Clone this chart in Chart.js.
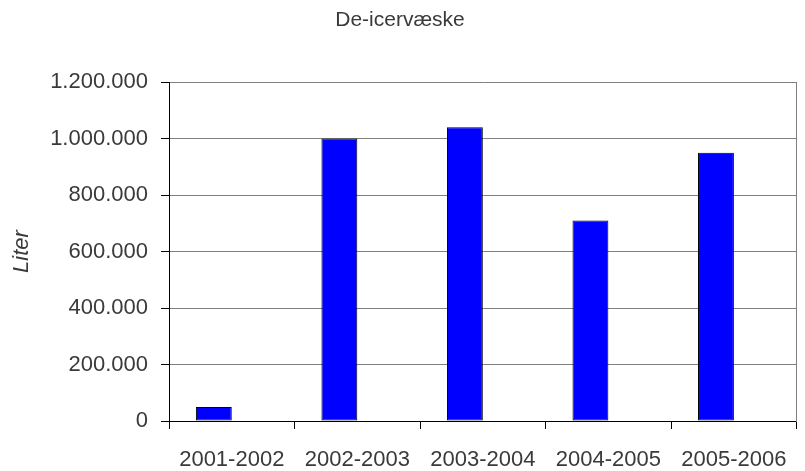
<!DOCTYPE html>
<html>
<head>
<meta charset="utf-8">
<script src="https://cdn.jsdelivr.net/npm/chart.js@4.4.1/dist/chart.umd.min.js"></script>
<style>
html,body{margin:0;padding:0;background:#fff;}
#wrap{width:805px;height:471px;}
</style>
</head>
<body>
<div id="wrap"><canvas id="c" width="805" height="471"></canvas></div>
<script>
const categories = ['2001-2002', '2002-2003', '2003-2004', '2004-2005', '2005-2006'];
const literValues = [50000, 1000000, 1040000, 710000, 950000];
const emptySeries = [null, null, null, null, null];
const yTickValues = [0, 200000, 400000, 600000, 800000, 1000000, 1200000];
const chartTitle = 'De-icervæske';
const yAxisTitle = 'Liter';

function fmt(v) {
  return String(v).replace(/\B(?=(\d{3})+(?!\d))/g, '.');
}

const FONT = '"Liberation Sans", Arial, sans-serif';
const TXT = '#3a3a3a';

new Chart(document.getElementById('c'), {
  type: 'bar',
  data: {
    labels: categories,
    datasets: [
      {
        label: 'Liter',
        data: literValues,
        backgroundColor: '#0000FF',
        borderColor: '#000000',
        borderWidth: 1,
        borderSkipped: false,
        categoryPercentage: 0.5714,
        barPercentage: 1
      },
      {
        label: 'tom',
        data: emptySeries,
        backgroundColor: '#0000FF',
        borderColor: '#000000',
        borderWidth: 1,
        categoryPercentage: 0.5714,
        barPercentage: 1
      }
    ]
  },
  options: {
    responsive: false,
    animation: false,
    layout: { padding: { left: 0, right: 5, top: 0, bottom: 0 } },
    plugins: {
      legend: { display: false },
      tooltip: { enabled: false },
      title: {
        display: true,
        text: chartTitle,
        color: TXT,
        font: { family: FONT, size: 21, weight: 'normal', lineHeight: 1.2 },
        padding: { top: 8, bottom: 48.8 }
      }
    },
    scales: {
      x: {
        grid: {
          display: true,
          drawOnChartArea: false,
          drawTicks: true,
          tickLength: 8,
          color: '#000000',
          offset: true
        },
        border: { display: true, color: '#000000', width: 1 },
        ticks: {
          color: TXT,
          font: { family: FONT, size: 22 },
          padding: 18,
          maxRotation: 0,
          autoSkip: false
        },
        afterFit: function (s) { s.height = 50; }
      },
      y: {
        min: 0,
        max: 1200000,
        afterBuildTicks: function (s) { s.ticks = yTickValues.map(v => ({ value: v })); },
        grid: {
          color: '#808080',
          tickColor: '#000000',
          drawTicks: true,
          tickLength: 8,
          lineWidth: 1
        },
        border: { display: true, color: '#000000', width: 1 },
        ticks: {
          color: TXT,
          font: { family: FONT, size: 22 },
          padding: 13,
          callback: function (v) { return fmt(v); }
        },
        title: {
          display: true,
          text: yAxisTitle,
          color: TXT,
          font: { family: FONT, size: 22, style: 'italic' },
          padding: { top: 9, bottom: 0 }
        },
        afterFit: function (s) { s.width = 169; }
      },
      yR: {
        position: 'right',
        display: true,
        min: 0,
        max: 1200000,
        grid: { drawOnChartArea: false, drawTicks: false },
        border: { display: true, color: '#808080', width: 1 },
        ticks: { display: false }
      }
    }
  }
});
</script>
</body>
</html>
